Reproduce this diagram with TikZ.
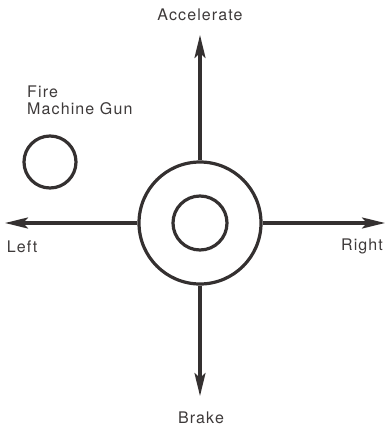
\documentclass[tikz,border=0pt]{standalone}
\usepackage{fontspec}
\newfontfamily\joyfont{TeX Gyre Heros}[LetterSpace=7]
\usetikzlibrary{positioning,arrows.meta}
\definecolor{ink}{RGB}{52,48,48}
\definecolor{print}{RGB}{62,58,58}
\tikzset{
  ring/.style={circle, draw=ink, line width=3.2pt, inner sep=0pt},
  move/.style={draw=ink, line width=3.2pt,
    -{Stealth[length=23pt,width=11pt,inset=5pt]}},
  word/.style={text=print, inner sep=0pt, font=\joyfont\fontsize{16}{18}\selectfont}
}
\begin{document}
\begin{tikzpicture}[x=1pt,y=-1pt]
    \useasboundingbox (0,0) rectangle (389,428);

    % the stick and its button
    \node[ring, minimum size=122pt] (stick) at (200,223) {};
    \node[ring, minimum size=54pt] (button) at (stick.center) {};
    \node[ring, minimum size=52pt] (gun) at (50,162) {};

    \coordinate (up) at (200,35);
    \coordinate (down) at (200,396);
    \coordinate (west) at (5,223);
    \coordinate (east) at (385,223);

    \draw[move] (stick.north) -- (up);
    \draw[move] (stick.south) -- (down);
    \draw[move] (stick.west) -- (west);
    \draw[move] (stick.east) -- (east);

    \node[word, anchor=base] (acc) at (200,21) {Accelerate};
    \node[word, anchor=base] (brk) at (201,423) {Brake};
    \node[word, anchor=base] (lft) at (22,252) {Left};
    \node[word, anchor=base] (rgt) at (362,250) {Right};
    \node[word, anchor=base west] (fire) at (27,97) {Fire};
    \node[word, anchor=base west] (mgun) at (27,114) {Machine Gun};
\end{tikzpicture}
\end{document}
